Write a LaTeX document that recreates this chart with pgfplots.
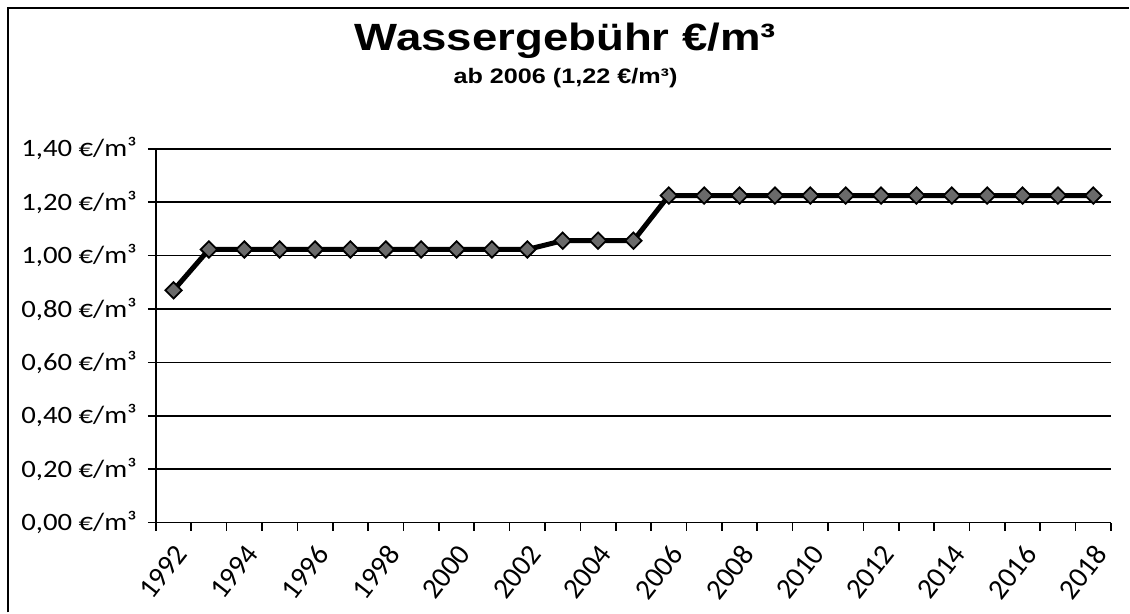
\documentclass[border=0pt]{standalone}
\usepackage{fontspec}
\usepackage{pgfplots}
\pgfplotsset{compat=1.18}
\setmainfont{Carlito}
\newfontfamily\tickfont[FakeStretch=1.15]{Carlito}
\newfontfamily\xtickfont{Carlito}
\newfontfamily\titlefont[FakeStretch=1.2]{Liberation Sans}
\definecolor{markfill}{HTML}{6A6A6A}
\begin{document}
\begin{tikzpicture}
\begin{axis}[
  scale only axis,
  width=478pt, height=187pt,
  xmin=1991.5, xmax=2018.5,
  ymin=0, ymax=1.4,
  /pgf/number format/assume math mode=true,
  axis x line*=bottom, axis y line*=left,
  axis line style={black, line width=0.9pt, -},
  xtick={1992,1994,...,2018},
  major x tick style={draw=none},
  minor xtick={1991.5,1992.5,...,2018.5},
  minor x tick style={black, line width=0.8pt},
  minor tick length=4pt,
  xticklabel style={font=\xtickfont\fontsize{14.5}{14.5}\selectfont, xshift=0pt, yshift=-6pt, rotate=52, anchor=north east, inner sep=0pt},
  xticklabel={\pgfmathprintnumber[1000 sep={},fixed,precision=0,assume math mode=true]{\tick}},
  ytick={0,0.2,...,1.41},
  ymajorgrids,
  major grid style={black, line width=0.8pt},
  major tick length=4pt,
  tick align=outside,
  y tick style={black, line width=0.8pt},
  yticklabel style={font=\tickfont\fontsize{12.5}{12.5}\selectfont, anchor=east, xshift=-2pt},
  yticklabel={\pgfmathprintnumber[fixed,fixed zerofill,precision=2,use comma,assume math mode=true]{\tick}~€/m³},
  clip=false,
]
\addplot[black, line width=2.5pt, mark=square*, mark size=2.9pt,
  mark options={rotate=45, fill=markfill, draw=black, line width=0.9pt}]
coordinates {
(1992,0.87) (1993,1.023) (1994,1.023) (1995,1.023) (1996,1.023) (1997,1.023)
(1998,1.023) (1999,1.023) (2000,1.023) (2001,1.023) (2002,1.023)
(2003,1.056) (2004,1.056) (2005,1.056)
(2006,1.225) (2007,1.225) (2008,1.225) (2009,1.225) (2010,1.225) (2011,1.225)
(2012,1.225) (2013,1.225) (2014,1.225) (2015,1.225) (2016,1.225) (2017,1.225) (2018,1.225)
};
\end{axis}
% page extent
\path (-78pt,-45pt) rectangle (487pt,261.5pt);
% frame (left and top only)
\draw[black, line width=1pt] (-74pt,-45pt) -- (-74pt,257.5pt) -- (487pt,257.5pt);
% titles
\node[font=\titlefont\bfseries\fontsize{19}{19}\selectfont] at (205pt,241pt) {Wassergebühr €/m³};
\node[font=\titlefont\bfseries\fontsize{10.5}{10.5}\selectfont] at (205pt,222.5pt) {ab 2006 (1,22 €/m³)};
\end{tikzpicture}
\end{document}
